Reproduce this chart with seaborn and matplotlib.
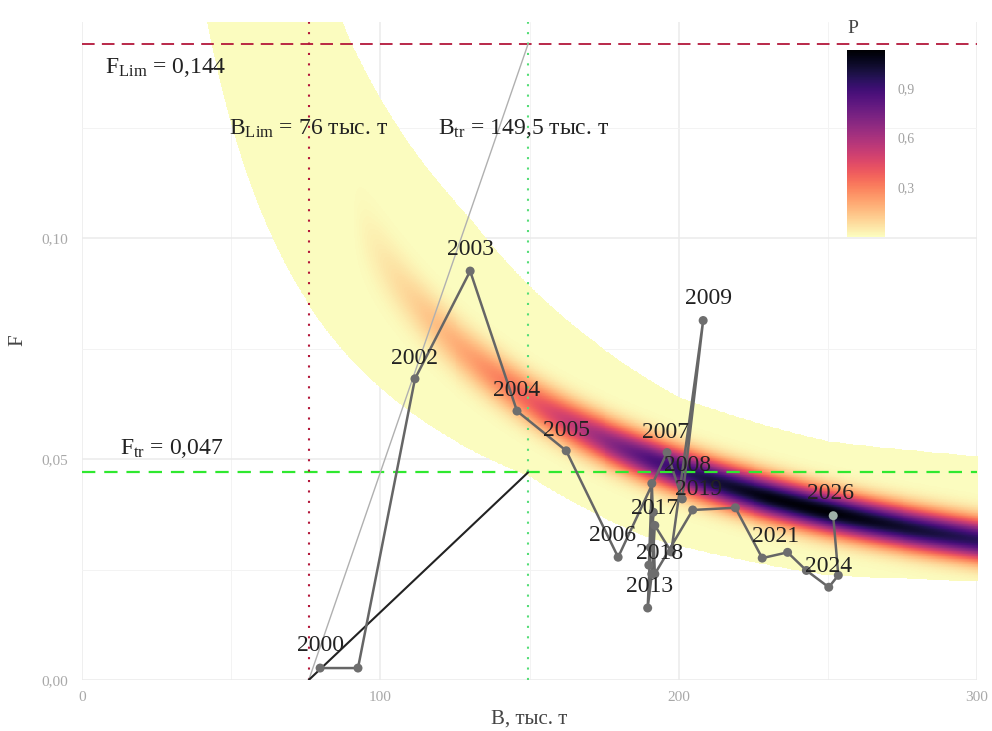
import numpy as np
import pandas as pd
import seaborn as sns
import matplotlib.pyplot as plt
from matplotlib.ticker import FuncFormatter, MultipleLocator

# trajectory B (thousand t) vs F
years = list(range(2000, 2027))
biomass = [79.8, 92.5, 111.6, 130.1, 145.8, 162.3, 179.7, 196.1, 201.2, 208.2,
           197.5, 192.0, 191.0, 189.6, 190.5, 191.5, 190.0, 191.0, 192.0, 204.7,
           219.0, 228.0, 236.5, 242.8, 250.3, 253.5, 251.8]
fishing = [0.0027, 0.0027, 0.0682, 0.0926, 0.0609, 0.0519, 0.0278, 0.0515, 0.0410, 0.0814,
           0.0290, 0.0350, 0.0240, 0.0163, 0.0300, 0.0380, 0.0260, 0.0445, 0.0240, 0.0385,
           0.0390, 0.0276, 0.0289, 0.0248, 0.0210, 0.0237, 0.0372]
label_years = [2000, 2002, 2003, 2004, 2005, 2006, 2007, 2008, 2009,
               2013, 2017, 2018, 2019, 2021, 2024, 2026]

# reference points
f_lim, f_tr = 0.144, 0.047
b_lim, b_tr = 76, 149.5

# probability band behind the trajectory (catch = F*B along the ridge)
ridge_catch = 9.5
low_b = [40, 100, 150, 190, 250, 300]
band_low = [6.2, 6.6, 6.9, 6.1, 5.9, 6.7]
high_b = [40, 90, 130, 200, 250, 300]
band_high = [13.0, 13.0, 13.6, 12.8, 13.5, 15.2]
peak_b = [40, 90, 110, 130, 150, 170, 190, 210, 230, 250, 270, 300]
peak_p = [0.0, 0.0, 0.1, 0.22, 0.38, 0.6, 0.85, 1.0, 1.1, 1.12, 1.05, 0.95]

df = pd.DataFrame({'year': years, 'B': biomass, 'F': fishing})

sns.set_theme(style='whitegrid')
plt.rcParams['font.family'] = ['Liberation Serif', 'DejaVu Serif']
plt.rcParams['mathtext.fontset'] = 'custom'
plt.rcParams['mathtext.rm'] = 'Liberation Serif'
plt.rcParams['mathtext.it'] = 'Liberation Serif:italic'

fig = plt.figure(figsize=(9.92, 7.31), dpi=100)
ax = fig.add_axes([0.0827, 0.0698, 0.9022, 0.9001])
xmax, ymax = 300, 0.149

# build the P field
px_b = 0.9022 * 992 / xmax
px_f = 0.9001 * 731 / ymax
gb = np.linspace(0.5, xmax, 900)
gf = np.linspace(0, ymax, 900)
B, F = np.meshgrid(gb, gf)
C = B * F
low = np.interp(B, low_b, band_low)
high = np.interp(B, high_b, band_high)
vert = (F - ridge_catch / B) * px_f
slope = ridge_catch / B ** 2 * px_f / px_b
perp = vert / np.sqrt(1 + slope ** 2)
P = np.interp(B, peak_b, peak_p) * np.exp(-perp ** 2 / (2 * 14.0 ** 2))
P[(C < low) | (C > high)] = np.nan

im = ax.imshow(P, origin='lower', extent=[0.5, xmax, 0, ymax], aspect='auto',
               cmap='magma_r', vmin=0, vmax=1.13, interpolation='nearest', zorder=1)

# reference lines
ax.axhline(f_lim, color='#b3173a', lw=1.3, dashes=(7, 4), zorder=3)
ax.axhline(f_tr, color='#2fe82f', lw=1.6, dashes=(6, 4), zorder=3)
ax.axvline(b_lim, color='#b3173a', lw=1.5, dashes=(1, 4), zorder=3)
ax.axvline(b_tr, color='#55dd77', lw=1.5, dashes=(1, 4), zorder=3)
ax.plot([b_lim, b_tr], [0, f_lim], color='#b0b0b0', lw=1.0, zorder=3)
ax.plot([b_lim, b_tr], [0, f_tr], color='#222222', lw=1.5, zorder=3)

txt = dict(fontsize=17, color='#222222', ha='center', va='center', zorder=7)
ax.text(28, f_lim - 0.0052, r'F$_{\mathrm{Lim}}$ = 0,144', **txt)
ax.text(30, f_tr + 0.0054, r'F$_{\mathrm{tr}}$ = 0,047', **txt)
ax.text(b_lim, 0.1248, r'B$_{\mathrm{Lim}}$ = 76 тыс. т', **txt)
ax.text(b_tr - 1.5, 0.1248, r'B$_{\mathrm{tr}}$ = 149,5 тыс. т', **txt)

# trajectory
sns.lineplot(data=df, x='B', y='F', sort=False, estimator=None, color='#666666',
             lw=1.8, ax=ax, zorder=4)
pt_colors = ['#6e6e6e'] * (len(years) - 1) + ['#9fb0a8']
ax.scatter(df['B'], df['F'], s=42, c=pt_colors, edgecolors='none', zorder=5)

# label offsets in pixels (dx, dy)
offsets = {2000: (0, 23), 2002: (0, 20), 2003: (0, 22), 2004: (0, 21), 2005: (0, 20),
           2006: (-6, 22), 2007: (-2, 20), 2008: (5, 33), 2009: (5, 22), 2013: (2, 21),
           2017: (3, -25), 2018: (5, 20), 2019: (6, 20), 2021: (13, 22), 2024: (0, 21),
           2026: (-3, 22)}
for yr in label_years:
    row = df[df['year'] == yr].iloc[0]
    dx, dy = offsets[yr]
    ax.annotate(str(yr), (row['B'], row['F']), xytext=(dx, dy), textcoords='offset pixels',
                fontsize=17, color='#222222', ha='center', va='center', zorder=6)

# axes styling
ax.set_xlim(0, xmax)
ax.set_ylim(0, ymax)
ax.xaxis.set_major_locator(MultipleLocator(100))
ax.xaxis.set_minor_locator(MultipleLocator(50))
ax.yaxis.set_major_locator(MultipleLocator(0.05))
ax.yaxis.set_minor_locator(MultipleLocator(0.025))
ax.yaxis.set_major_formatter(FuncFormatter(lambda v, p: f'{v:.2f}'.replace('.', ',')))
ax.grid(which='major', color='#ebebeb', lw=1.1)
ax.grid(which='minor', color='#f3f3f3', lw=0.7)
ax.set_axisbelow(True)
for s in ax.spines.values():
    s.set_visible(False)
ax.tick_params(which='both', length=0, labelsize=11, labelcolor='#a8a8a8')
ax.tick_params(axis='y', pad=10)
ax.tick_params(axis='x', pad=8)
ax.set_xlabel('B, тыс. т', fontsize=15, color='#444444')
ax.set_ylabel('F', fontsize=15, color='#444444')
ax.xaxis.set_label_coords(0.5, -0.045)
ax.yaxis.set_label_coords(-0.061, 0.517)

# colour bar inside the panel
cax = fig.add_axes([0.854, 0.676, 0.0383, 0.256])
cb = fig.colorbar(im, cax=cax, ticks=[0.3, 0.6, 0.9])
cb.outline.set_visible(False)
cb.ax.yaxis.set_major_formatter(FuncFormatter(lambda v, p: f'{v:.1f}'.replace('.', ',')))
cax.tick_params(direction='in', length=6, width=0.9, color='white', left=True, right=True,
                labelsize=10, labelcolor='#a0a0a0', pad=9)
cax.grid(False)
cax.set_title('P', loc='left', fontsize=14, color='#444444', pad=12)

fig.savefig('out.png', dpi=100)
